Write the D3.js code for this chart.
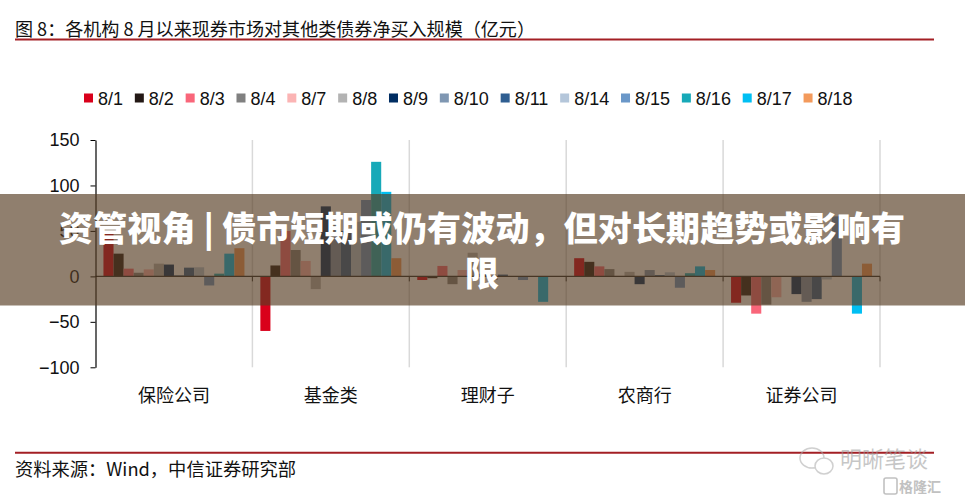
<!DOCTYPE html>
<html>
<head>
<meta charset="utf-8">
<script src="https://cdn.jsdelivr.net/npm/d3@7/dist/d3.min.js"></script>
<style>
  html, body { margin: 0; padding: 0; background: #fff; }
  svg { display: block; }
</style>
</head>
<body>
<svg id="chart" width="965" height="501"></svg>
<script>
// ---------------- data ----------------
const categories = ["保险公司", "基金类", "理财子", "农商行", "证券公司"];
const seriesNames = ["8/1", "8/2", "8/3", "8/4", "8/7", "8/8", "8/9", "8/10", "8/11", "8/14", "8/15", "8/16", "8/17", "8/18"];
const seriesColors = ["#D9001B", "#231815", "#F9667A", "#808080", "#FBB4B4", "#B3B3B3", "#002D62", "#7F97B2", "#2F5E91", "#B4C6DA", "#6A97C8", "#17A9B8", "#00BFF3", "#F39A5C"];

// values per series, in category order: 保险公司, 基金类, 理财子, 农商行, 证券公司 (亿元)
const v0801 = [47, -60, -4, 20, -29];
const v0802 = [25, 12, -2, 16, -21];
const v0803 = [8.5, 50, 11.5, 11, -41];
const v0804 = [4, 29, -8.6, 8, -31];
const v0807 = [7.7, 17, 7, 0.5, -23];
const v0808 = [14, -14, 26, 5, -0.5];
const v0809 = [13, 77, 3, -8.6, -19.5];
const v0810 = [1.5, 58, -4, 7, -28];
const v0811 = [9.6, 50, 2, 1.4, -25];
const v0814 = [10, 60, 0, 4.5, -3.4];
const v0815 = [-10, 84, -4, -12.5, 66];
const v0816 = [3, 126, 0, 3.5, -0.5];
const v0817 = [25, 93, -28, 11, -41];
const v0818 = [31, 20, 0, 7, 14];
const seriesValues = [v0801, v0802, v0803, v0804, v0807, v0808, v0809, v0810, v0811, v0814, v0815, v0816, v0817, v0818];

const yTicks = [150, 100, 50, 0, -50, -100];

const titleText = "图 8：各机构 8 月以来现券市场对其他类债券净买入规模（亿元）";
const sourceText = "资料来源：Wind，中信证券研究部";
const bannerLines = ["资管视角 | 债市短期或仍有波动，但对长期趋势或影响有", "限"];

// ---------------- drawing ----------------
const svg = d3.select("#chart");
const LATIN = "'Liberation Sans', Arial, sans-serif";
const CJK = "'Noto Sans CJK SC', 'Liberation Sans', sans-serif";

const plot = { left: 95.5, right: 880, top: 140, bottom: 367.3 };

const x0 = d3.scaleBand().domain(categories).range([plot.left, plot.right]).paddingInner(0).paddingOuter(0);
const x1 = d3.scaleBand().domain(seriesNames).range([0, x0.bandwidth()]).paddingInner(0).paddingOuter(0.79);
const y = d3.scaleLinear().domain([-100, 150]).range([plot.bottom, plot.top]);
const color = d3.scaleOrdinal().domain(seriesNames).range(seriesColors);

// title + red rules
svg.append("text")
  .attr("x", 15).attr("y", 35.5)
  .attr("font-family", CJK).attr("font-size", 18).attr("fill", "#111")
  .attr("textLength", 520).attr("lengthAdjust", "spacingAndGlyphs")
  .text(titleText);
svg.append("line").attr("x1", 15).attr("x2", 934).attr("y1", 39.5).attr("y2", 39.5)
  .attr("stroke", "#A31F24").attr("stroke-width", 2);
svg.append("line").attr("x1", 15).attr("x2", 934).attr("y1", 452.7).attr("y2", 452.7)
  .attr("stroke", "#A31F24").attr("stroke-width", 2);
svg.append("text")
  .attr("x", 15).attr("y", 476)
  .attr("font-family", CJK).attr("font-size", 18).attr("fill", "#111")
  .attr("textLength", 281).attr("lengthAdjust", "spacingAndGlyphs")
  .text(sourceText);

// legend (flow layout)
const legend = svg.append("g").attr("class", "legend");
let lx = 84;
seriesNames.forEach((name) => {
  const g = legend.append("g");
  g.append("rect").attr("x", lx).attr("y", 93.5).attr("width", 9).attr("height", 9).attr("fill", color(name));
  const t = g.append("text").attr("x", lx + 14).attr("y", 104.5)
    .attr("font-family", LATIN).attr("font-size", 18).attr("fill", "#111").text(name);
  const w = t.node().getComputedTextLength();
  lx = lx + 14 + w + 11.8;
});

// vertical separators
const boundaries = categories.map(c => x0(c) + x0.bandwidth());
svg.append("g").selectAll("line").data(boundaries).join("line")
  .attr("x1", d => d).attr("x2", d => d)
  .attr("y1", y(150)).attr("y2", y(-100))
  .attr("stroke", "#D9D9D9").attr("stroke-width", 1.5);

// bars
const rows = [];
categories.forEach((c, ci) => {
  seriesNames.forEach((s, si) => rows.push({ cat: c, series: s, value: seriesValues[si][ci] }));
});
svg.append("g").selectAll("rect").data(rows).join("rect")
  .attr("x", d => x0(d.cat) + x1(d.series))
  .attr("width", x1.bandwidth())
  .attr("y", d => y(Math.max(0, d.value)))
  .attr("height", d => Math.abs(y(d.value) - y(0)))
  .attr("fill", d => color(d.series));

// zero line with boundary ticks
svg.append("line").attr("x1", plot.left).attr("x2", plot.right).attr("y1", y(0)).attr("y2", y(0))
  .attr("stroke", "#2b2b2b").attr("stroke-width", 1.2);
svg.append("g").selectAll("line").data(boundaries).join("line")
  .attr("x1", d => d).attr("x2", d => d).attr("y1", y(0)).attr("y2", y(0) + 5)
  .attr("stroke", "#2b2b2b").attr("stroke-width", 1);

// y axis
const yAxis = svg.append("g").attr("transform", `translate(${plot.left},0)`)
  .call(d3.axisLeft(y).tickValues(yTicks).tickSize(5).tickSizeOuter(0).tickPadding(11).tickFormat(d3.format("d")));
yAxis.select(".domain").attr("stroke", "#000").attr("stroke-width", 1.2);
yAxis.selectAll(".tick line").attr("stroke", "#000");
yAxis.selectAll(".tick text").attr("font-family", LATIN).attr("font-size", 18).attr("fill", "#111");

// category labels
svg.append("g").selectAll("text").data(categories).join("text")
  .attr("x", d => x0(d) + x0.bandwidth() / 2).attr("y", 402)
  .attr("text-anchor", "middle")
  .attr("font-family", CJK).attr("font-size", 18).attr("fill", "#111")
  .text(d => d);

// watermark
const wm = svg.append("g").attr("opacity", 0.55);
wm.append("ellipse").attr("cx", 812).attr("cy", 458).attr("rx", 12).attr("ry", 10)
  .attr("fill", "none").attr("stroke", "#aaa").attr("stroke-width", 1.5);
wm.append("ellipse").attr("cx", 824).attr("cy", 466).attr("rx", 9).attr("ry", 8)
  .attr("fill", "#fff").attr("stroke", "#aaa").attr("stroke-width", 1.5);
wm.append("text").attr("x", 840).attr("y", 467)
  .attr("font-family", CJK).attr("font-size", 22).attr("fill", "#999").text("明晰笔谈");
const wm2 = svg.append("g").attr("opacity", 0.6);
wm2.append("rect").attr("x", 884).attr("y", 478).attr("width", 13).attr("height", 16).attr("rx", 2)
  .attr("fill", "none").attr("stroke", "#999").attr("stroke-width", 1.6);
wm2.append("text").attr("x", 899).attr("y", 492)
  .attr("font-family", CJK).attr("font-size", 14).attr("font-weight", 700).attr("fill", "#999").text("格隆汇");

// banner overlay
svg.append("rect").attr("x", 0).attr("y", 194).attr("width", 965).attr("height", 111.5)
  .attr("fill", "rgb(86,60,35)").attr("fill-opacity", 0.66);
svg.append("g").selectAll("text").data(bannerLines).join("text")
  .attr("x", 482).attr("y", (d, i) => 241 + i * 45)
  .attr("text-anchor", "middle")
  .attr("font-family", CJK).attr("font-size", 34).attr("font-weight", 900).attr("fill", "#fff")
  .attr("textLength", (d, i) => i === 0 ? 846 : null)
  .attr("lengthAdjust", "spacing")
  .text(d => d);
</script>
</body>
</html>
